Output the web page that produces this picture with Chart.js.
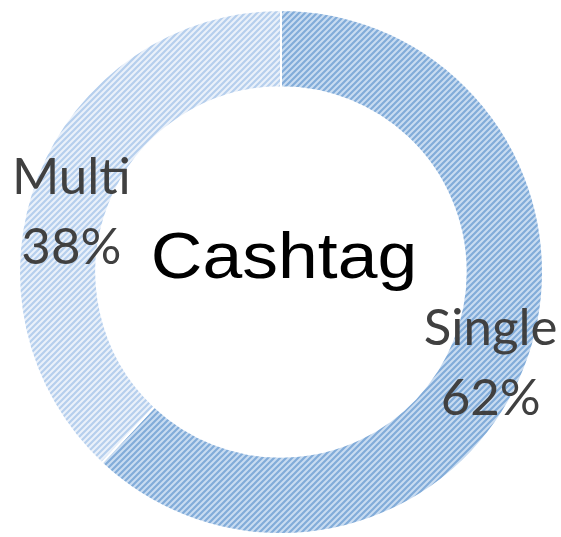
<!DOCTYPE html>
<html>
<head>
<meta charset="utf-8">
<script src="https://cdn.jsdelivr.net/npm/chart.js@4/dist/chart.umd.min.js"></script>
<style>
  html, body { margin: 0; padding: 0; background: #fff; }
  #wrap { width: 561px; height: 537px; }
</style>
</head>
<body>
<div id="wrap"><canvas id="myDoughnut"></canvas></div>
<script>
// chart data
var labels = ['Single', 'Multi'];
var shares = [62, 38];
var centerTitle = 'Cashtag';

// hatched fill like the office chart
function hatch(bg, fg) {
    var c = document.createElement('canvas');
    c.width = 6;
    c.height = 6;
    var g = c.getContext('2d');
    g.fillStyle = bg;
    g.fillRect(0, 0, 6, 6);
    g.strokeStyle = fg;
    g.lineWidth = 2.2;
    g.beginPath();
    g.moveTo(-1, 7); g.lineTo(7, -1);
    g.moveTo(-4, 4); g.lineTo(4, -4);
    g.moveTo(2, 10); g.lineTo(10, 2);
    g.stroke();
    return g.createPattern(c, 'repeat');
}

var ctx = document.getElementById('myDoughnut').getContext('2d');

// per-label nudges (px) to sit where the reference puts them
var labelNudge = [[2, 9], [-2, 23]];

var labelPlugin = {
    id: 'sliceLabels',
    afterDatasetsDraw: function(chart) {
        var meta = chart.getDatasetMeta(0);
        var c = chart.ctx;
        c.save();
        c.textAlign = 'center';
        c.textBaseline = 'middle';
        meta.data.forEach(function(arc, i) {
            var mid = (arc.startAngle + arc.endAngle) / 2;
            var r = (arc.innerRadius + arc.outerRadius) / 2;
            var x = arc.x + Math.cos(mid) * r + labelNudge[i][0];
            var y = arc.y + Math.sin(mid) * r + labelNudge[i][1];
            c.fillStyle = '#404040';
            c.font = '51px Lato, "Open Sans", sans-serif';
            c.fillText(labels[i], x, y - 35);
            c.fillText(shares[i] + '%', x, y + 35);
        });
        // title in the hole, a little wide like the source
        var a = meta.data[0];
        c.fillStyle = '#000';
        c.font = '65px "Liberation Sans", Arial, sans-serif';
        c.textBaseline = 'alphabetic';
        c.translate(a.x + 3, 278);
        c.scale(1.1, 1);
        c.fillText(centerTitle, 0, 0);
        c.restore();
    }
};

var myDoughnut = new Chart(ctx, {
    type: 'doughnut',
    data: {
        labels: labels,
        datasets: [{
            data: shares,
            backgroundColor: [
                hatch('#c9dcf1', '#82acd9'),
                hatch('#eaf1fa', '#b6cfed')
            ],
            borderColor: '#ffffff',
            borderWidth: 2
        }]
    },
    options: {
        responsive: true,
        maintainAspectRatio: false,
        animation: false,
        cutout: '70.5%',
        layout: { padding: { top: 9, bottom: 2, left: 17, right: 16 } },
        plugins: {
            legend: { display: false },
            tooltip: { enabled: false }
        }
    },
    plugins: [labelPlugin]
});
</script>
</body>
</html>
